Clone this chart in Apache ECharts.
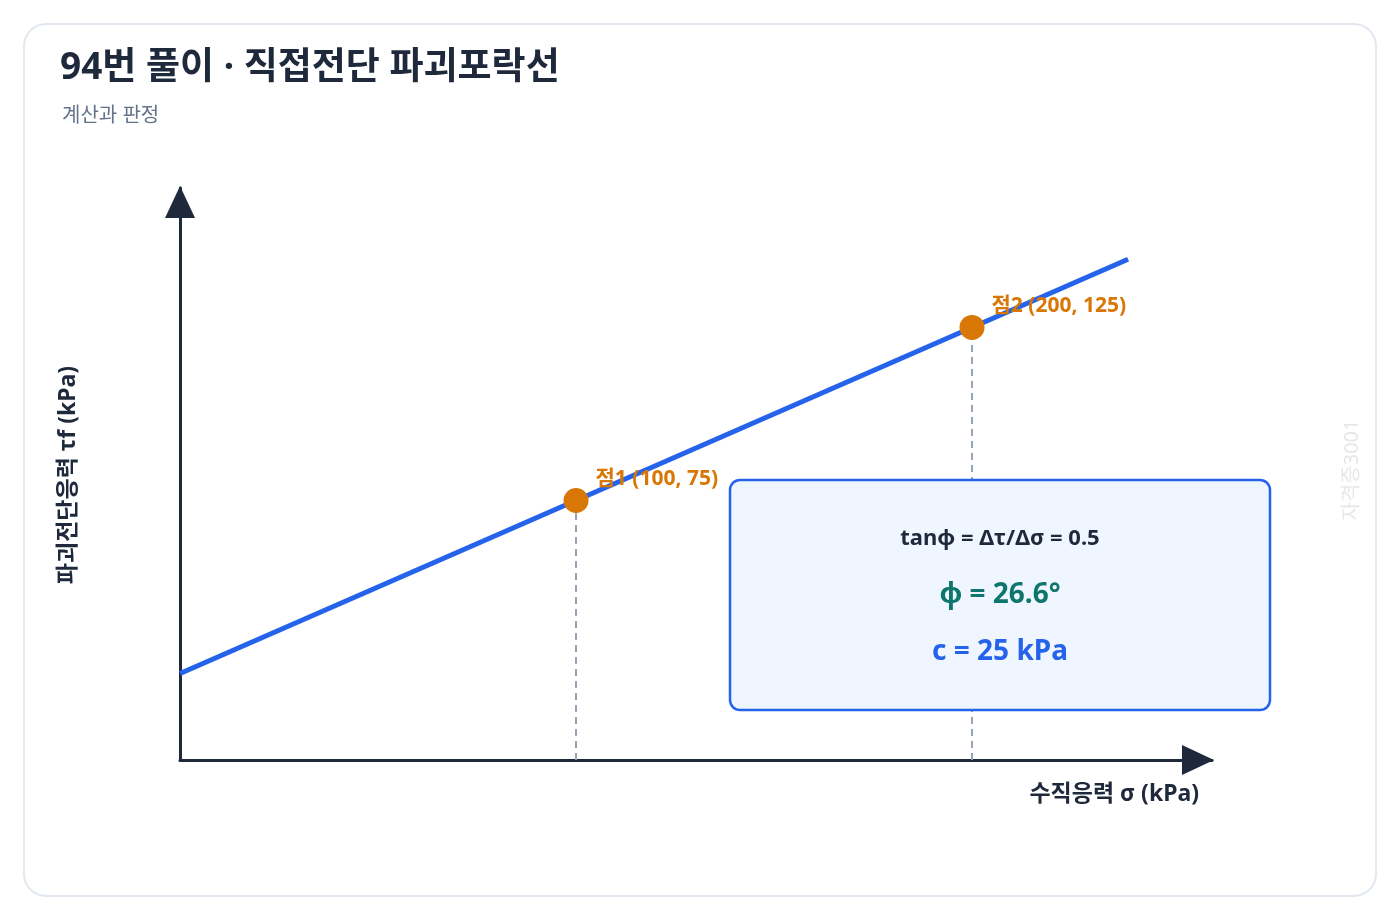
<!DOCTYPE html>
<html>
<head>
<meta charset="UTF-8">
<title>직접전단 파괴포락선</title>
<script src="https://cdn.jsdelivr.net/npm/echarts@6/dist/echarts.min.js"></script>
</head>
<body style="margin:0;background:#fff;">
<div id="container" style="width:1400px;height:920px;"></div>
<script>
var FONT = '"Noto Sans", "Noto Sans CJK KR", sans-serif';
// data
var envelopeSigma = [0, 239.4];
var envelopeTau = [25, 144.7];
var pointNames = ['점1', '점2'];
var pointSigma = [100, 200];
var pointTau = [75, 125];

var myChart = echarts.init(document.getElementById('container'));

var envelope = envelopeSigma.map(function (s, i) { return [s, envelopeTau[i]]; });
var points = pointSigma.map(function (s, i) {
  return { value: [s, pointTau[i]], name: pointNames[i] };
});
var dashSeries = pointSigma.map(function (s, i) {
  return {
    type: 'line', symbol: 'none', silent: true, z: 1,
    data: [[s, 0], [s, pointTau[i]]],
    lineStyle: { color: '#94a3b8', width: 2, type: [7, 5] }
  };
});

var option = {
  animation: false,
  textStyle: { fontFamily: FONT },
  grid: { left: 180, right: 188, top: 188, bottom: 160 },
  xAxis: {
    type: 'value', min: 0, max: 260.6,
    axisLine: { show: true, lineStyle: { color: '#1e293b', width: 3 },
      symbol: ['none', 'triangle'], symbolSize: [30, 32], symbolOffset: [0, -14] },
    axisTick: { show: false }, axisLabel: { show: false }, splitLine: { show: false }
  },
  yAxis: {
    type: 'value', min: 0, max: 165.3,
    axisLine: { show: true, lineStyle: { color: '#1e293b', width: 3 },
      symbol: ['none', 'triangle'], symbolSize: [30, 32], symbolOffset: [0, -14] },
    axisTick: { show: false }, axisLabel: { show: false }, splitLine: { show: false }
  },
  series: dashSeries.concat([
    {
      type: 'line', symbol: 'none', data: envelope, z: 3,
      lineStyle: { color: '#2563eb', width: 5 }
    },
    {
      type: 'scatter', data: points, symbolSize: 25, z: 4,
      itemStyle: { color: '#d97706', opacity: 1 },
      label: {
        show: true, position: 'right', offset: [2, -21],
        formatter: function (p) { return p.name + ' (' + p.value[0] + ', ' + p.value[1] + ')'; },
        color: '#d97706', fontSize: 21, fontWeight: 'bold', fontFamily: FONT
      }
    }
  ]),
  graphic: [
    { type: 'rect', z: -10, shape: { x: 24, y: 24, width: 1352, height: 872, r: 22 },
      style: { fill: '#fff', stroke: '#e2e8f0', lineWidth: 2 } },
    { type: 'text', left: 60, top: 50, style: { text: '94번 풀이 · 직접전단 파괴포락선',
      font: 'bold 37px ' + FONT, fill: '#1e293b' } },
    { type: 'text', left: 62, top: 106, style: { text: '계산과 판정',
      font: '20px ' + FONT, fill: '#64748b' } },
    { type: 'text', x: 68, y: 475, rotation: Math.PI / 2, z: 5,
      style: { text: '파괴전단응력 τf (kPa)', font: 'bold 23px ' + FONT, fill: '#1e293b',
        align: 'center', verticalAlign: 'middle' } },
    { type: 'text', x: 1199, y: 794,
      style: { text: '수직응력 σ (kPa)', font: 'bold 23px ' + FONT, fill: '#1e293b',
        align: 'right', verticalAlign: 'middle' } },
    { type: 'text', x: 1352, y: 470, rotation: Math.PI / 2,
      style: { text: '자격증3001', font: '20px ' + FONT, fill: '#e5e7eb',
        align: 'center', verticalAlign: 'middle' } },
    { type: 'rect', z: 10, shape: { x: 730, y: 480, width: 540, height: 230, r: 10 },
      style: { fill: '#eff6ff', stroke: '#2563eb', lineWidth: 2.5 } },
    { type: 'text', z: 11, x: 1000, y: 539,
      style: { text: 'tanφ = Δτ/Δσ = 0.5', font: 'bold 22px ' + FONT, fill: '#1e293b',
        align: 'center', verticalAlign: 'middle' } },
    { type: 'text', z: 11, x: 1000, y: 595,
      style: { text: 'φ = 26.6°', font: 'bold 28px ' + FONT, fill: '#0f766e',
        align: 'center', verticalAlign: 'middle' } },
    { type: 'text', z: 11, x: 1000, y: 652,
      style: { text: 'c = 25 kPa', font: 'bold 28px ' + FONT, fill: '#2563eb',
        align: 'center', verticalAlign: 'middle' } }
  ]
};
myChart.setOption(option);
</script>
</body>
</html>
